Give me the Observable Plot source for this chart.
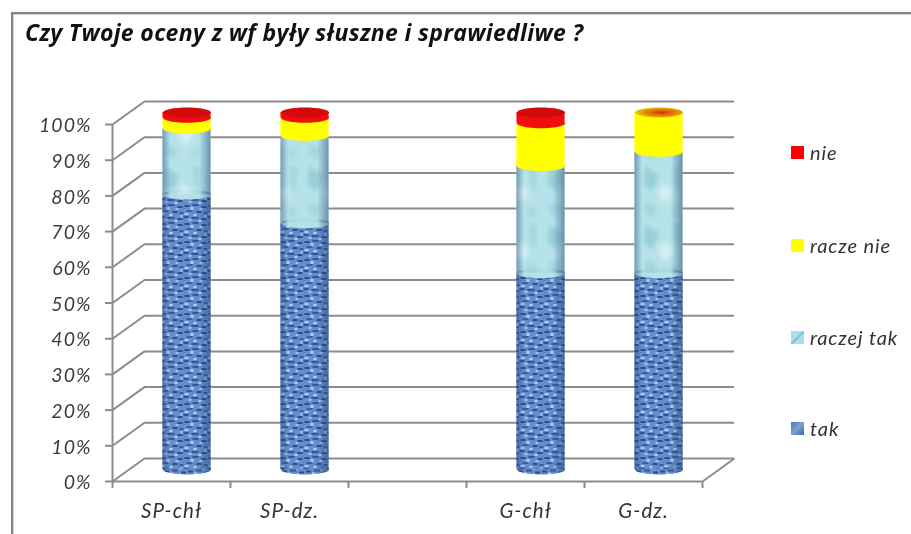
<!DOCTYPE html>
<html>
<head>
<meta charset="utf-8">
<script src="https://cdn.jsdelivr.net/npm/d3@7"></script>
<script src="https://cdn.jsdelivr.net/npm/@observablehq/plot@0.6"></script>
<style>
  html, body { margin: 0; padding: 0; background: #fff; }
  #page { position: relative; width: 911px; height: 534px; overflow: hidden; font-family: Lato, "Open Sans", sans-serif; font-style: italic; filter: blur(0.35px); }
  #frame { position: absolute; left: 11px; top: 12px; right: -5px; bottom: -5px; border: 2px solid #858585; box-shadow: inset 1px 1px 0 #d0d0d0; }
  #title { position: absolute; left: 25px; top: 16px; font-family: "Open Sans", sans-serif; font-size: 23px; font-weight: 700; letter-spacing: 0.35px; color: #111; white-space: nowrap; }
  #chart { position: absolute; left: 0; top: 0; }
  #legend div { position: absolute; left: 791px; display: flex; align-items: center; gap: 6px; font-size: 20px; letter-spacing: 0.9px; color: #333; white-space: nowrap; height: 20px; }
  #legend i { display: block; width: 13px; height: 13px; }
</style>
</head>
<body>
<div id="page">
  <div id="frame"></div>
  <div id="chart"></div>
  <div id="title">Czy Twoje oceny z wf były słuszne i sprawiedliwe ?</div>
  <div id="legend"></div>
</div>
<script>
const title = "Czy Twoje oceny z wf były słuszne i sprawiedliwe ?";
const categories = ["SP-chł", "SP-dz.", "G-chł", "G-dz."];
const slots = [0.5, 1.5, 3.5, 4.5];
const tak = [77, 69, 55, 55];
const raczejTak = [18.5, 24.5, 30, 34];
const raczeNie = [3, 5, 12, 11];
const nie = [1.5, 1.5, 3, 0];
const yTicks = [0, 10, 20, 30, 40, 50, 60, 70, 80, 90, 100];
const xTicks = [0, 1, 2, 3, 4, 5];

const series = [
  {name: "tak", values: tak, fill: "url(#texBlue)", shade: true, swatch: "linear-gradient(135deg,#4f76b8,#7fa0d6 50%,#3f64a6)"},
  {name: "raczej tak", values: raczejTak, fill: "url(#texCyan)", shade: true, swatch: "linear-gradient(135deg,#a8dfe9 45%,#6fb7cc 50%,#a8dfe9 60%)"},
  {name: "racze nie", values: raczeNie, fill: "#ffff00", shade: false, swatch: "#ffff00"},
  {name: "nie", values: nie, fill: "#f20d0d", shade: false, swatch: "#ff0000"}
];
const legendY = {"nie": 142, "racze nie": 235, "raczej tak": 327, "tak": 418};

const rows = [];
categories.forEach((c, i) => {
  let base = 0;
  series.forEach(s => {
    rows.push({category: c, slot: slots[i], series: s.name, y1: base, y2: base + s.values[i]});
    base += s.values[i];
  });
});
const caps = categories.map((c, i) => ({slot: slots[i], total: 100, hasRed: nie[i] > 0}));

const barHalf = 0.204;
const depth = {dx: 15.5, dy: -12};
const back = {dx: 32, dy: -23};
const ellipse = {
  draw(ctx) {
    const a = 24, b = 5, kx = a * 0.5523, ky = b * 0.5523;
    ctx.moveTo(-a, 0);
    ctx.bezierCurveTo(-a, -ky, -kx, -b, 0, -b);
    ctx.bezierCurveTo(kx, -b, a, -ky, a, 0);
    ctx.bezierCurveTo(a, ky, kx, b, 0, b);
    ctx.bezierCurveTo(-kx, b, -a, ky, -a, 0);
    ctx.closePath();
  }
};

const defsMark = () => {
  const d = d3.create("svg:defs");
  d.html(`
    <filter id="soft" x="-20%" y="-20%" width="140%" height="140%"><feGaussianBlur stdDeviation="0.6"/></filter>
    <filter id="softer" x="-30%" y="-30%" width="160%" height="160%"><feGaussianBlur stdDeviation="2.2"/></filter>
    <pattern id="texBlue" patternUnits="userSpaceOnUse" width="24" height="18">
      <rect width="24" height="18" fill="#6a90cf"/>
      <g filter="url(#soft)">
        <rect x="1" y="1" width="5" height="2" fill="#2c4f90"/>
        <rect x="9" y="0" width="6" height="2" fill="#34599c"/>
        <rect x="18" y="2" width="5" height="2" fill="#2c4f90"/>
        <rect x="3" y="6" width="6" height="2" fill="#3a60a4"/>
        <rect x="13" y="7" width="5" height="2" fill="#2c4f90"/>
        <rect x="20" y="8" width="4" height="2" fill="#3a60a4"/>
        <rect x="0" y="12" width="5" height="2" fill="#2f5394"/>
        <rect x="8" y="13" width="7" height="2" fill="#34599c"/>
        <rect x="18" y="14" width="5" height="2" fill="#2c4f90"/>
        <rect x="7" y="3" width="3" height="3" fill="#b9d1f4"/>
        <rect x="16" y="4" width="3" height="2" fill="#a9c6ef"/>
        <rect x="1" y="9" width="4" height="2" fill="#bcd4f6"/>
        <rect x="10" y="10" width="3" height="2" fill="#c3d9f8"/>
        <rect x="21" y="11" width="2" height="3" fill="#a9c6ef"/>
        <rect x="5" y="15" width="3" height="2" fill="#b0caf2"/>
        <rect x="15" y="16" width="3" height="2" fill="#bcd4f6"/>
      </g>
    </pattern>
    <pattern id="texCyan" patternUnits="userSpaceOnUse" width="48" height="58">
      <rect width="48" height="58" fill="#bfeaef"/>
      <g filter="url(#softer)">
        <path d="M6 4 L20 14 L12 30 L4 22 Z" fill="#8fcdd4" opacity="0.7"/>
        <path d="M24 22 L34 30 L26 42 L18 32 Z" fill="#e2f8f8" opacity="0.9"/>
        <path d="M34 2 L42 6 L40 30 L34 20 Z" fill="#a3dade" opacity="0.75"/>
        <path d="M6 40 L18 44 L14 56 L6 52 Z" fill="#a0d9de" opacity="0.7"/>
        <path d="M30 46 L42 42 L40 56 L32 56 Z" fill="#a7dde1" opacity="0.6"/>
      </g>
    </pattern>
    <linearGradient id="shade" x1="0" x2="1" y1="0" y2="0">
      <stop offset="0" stop-color="#234a78" stop-opacity="0.5"/>
      <stop offset="0.16" stop-color="#234a78" stop-opacity="0.05"/>
      <stop offset="0.76" stop-color="#234a78" stop-opacity="0.05"/>
      <stop offset="1" stop-color="#234a78" stop-opacity="0.55"/>
    </linearGradient>
    <radialGradient id="capMix" cx="0.55" cy="0.5" r="0.55">
      <stop offset="0" stop-color="#e62a0c"/>
      <stop offset="0.6" stop-color="#e2860a"/>
      <stop offset="1" stop-color="#e6d200"/>
    </radialGradient>`);
  return d.node();
};

const gray = "#8c8c8c";
const barMarks = series.flatMap(s => {
  const data = rows.filter(r => r.series === s.name && r.y2 > r.y1);
  const pos = {x: "slot", y: "y1", symbol: ellipse, r: 5, ...depth};
  const rect = {x1: r => r.slot - barHalf, x2: r => r.slot + barHalf, y1: "y1", y2: "y2", ...depth};
  const m = [Plot.dot(data, {...pos, fill: s.fill, stroke: "none"}), Plot.rect(data, {...rect, fill: s.fill})];
  if (s.shade) m.push(Plot.dot(data, {...pos, fill: "url(#shade)", stroke: "none"}), Plot.rect(data, {...rect, fill: "url(#shade)"}));
  return m;
});

const chart = Plot.plot({
  width: 911,
  height: 534,
  marginLeft: 112,
  marginRight: 209,
  marginTop: 124,
  marginBottom: 53,
  style: {fontFamily: "Lato, 'Open Sans', sans-serif", fontStyle: "italic", letterSpacing: "1px", background: "transparent", overflow: "visible"},
  x: {domain: [0, 5], label: null},
  y: {domain: [0, 100], label: null},
  marks: [
    defsMark,
    Plot.ruleY(yTicks, {x1: 0, x2: 5, stroke: gray, strokeWidth: 2, ...back}),
    Plot.link(yTicks, {x1: () => 0, y1: d => d, x2: () => 32 / 118, y2: d => d + 23 / 3.57, stroke: gray, strokeWidth: 2}),
    Plot.link([0], {x1: () => 5, y1: d => d, x2: () => 5 + 32 / 118, y2: d => d + 23 / 3.57, stroke: gray, strokeWidth: 2}),
    Plot.ruleX([0], {y1: 0, y2: 100, stroke: gray, strokeWidth: 2}),
    Plot.ruleY([0], {x1: 0, x2: 5, stroke: gray, strokeWidth: 2}),
    Plot.axisY(yTicks, {tickFormat: () => "", tickSize: 7, stroke: gray, strokeWidth: 2, label: null}),
    Plot.text(yTicks, {x: () => 0, y: d => d, text: d => d + "%", textAnchor: "end", dx: -21, dy: 1.5, fill: "#3c3c3c", fontSize: 19.5, fontVariant: "normal"}),
    Plot.axisX(xTicks, {tickFormat: () => "", tickSize: 7, stroke: gray, strokeWidth: 2, label: null}),
    Plot.text(categories, {x: (d, i) => slots[i], y: () => 0, text: d => d, dy: 30, fill: "#333", fontSize: 20.5}),
    ...barMarks,
    Plot.dot(caps, {x: "slot", y: "total", symbol: ellipse, r: 5, ...depth, stroke: "none", fill: d => d.hasRed ? "#d30a0a" : "url(#capMix)"})
  ]
});
document.getElementById("chart").append(chart);

const legend = d3.select("#legend");
[...series].reverse().forEach(s => {
  const row = legend.append("div").style("top", legendY[s.name] + "px");
  row.append("i").style("background", s.swatch);
  row.append("span").text(s.name);
});
document.getElementById("title").textContent = title;
</script>
</body>
</html>
